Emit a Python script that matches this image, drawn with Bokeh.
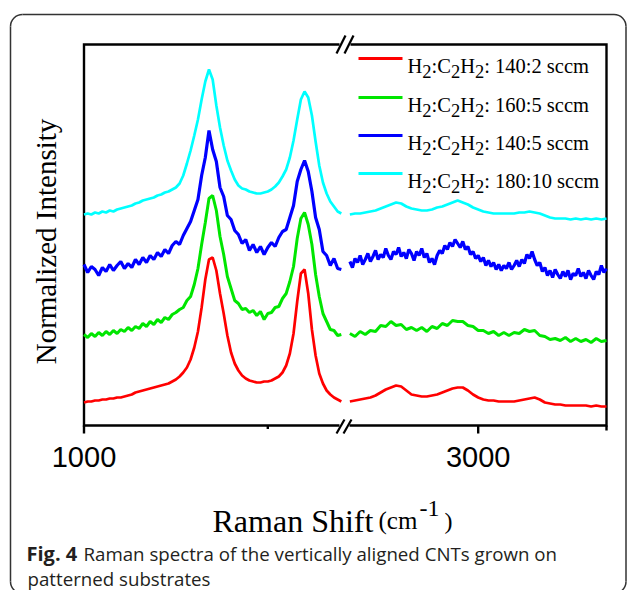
import math
from bokeh.plotting import figure
from bokeh.models import Range1d
from bokeh.core.properties import value
from bokeh.embed import file_html
from bokeh.resources import INLINE

# ---------------- data ----------------
wn_left = list(range(1000, 1701, 10))         # Raman shift, cm^-1 (left segment)
wn_right = list(range(2500, 3501, 20))        # Raman shift, cm^-1 (right segment)
wn_right_fine = list(range(2500, 3501, 10))   # finer sampling for the noisy blue spectrum

red_left = [23, 24, 24, 25, 25, 26, 26, 27, 27, 28, 28, 29, 30, 31, 33, 34, 35, 36, 37, 38,
            39, 40, 41, 42, 44, 46, 49, 53, 58, 66, 78, 94, 118, 146, 166, 168, 155, 132, 112, 90,
            73, 62, 55, 50, 47, 45, 44, 43, 43, 44, 44, 45, 47, 49, 53, 60, 72, 92, 124, 152,
            156, 132, 96, 70, 52, 42, 35, 31, 28, 26, 24]
green_left = [91, 88, 92, 89, 93, 90, 94, 91, 95, 92, 96, 94, 98, 95, 99, 97, 102, 99, 104, 101,
              106, 103, 108, 106, 111, 113, 116, 118, 125, 129, 141, 157, 181, 203, 227, 230, 215, 189, 171, 149,
              137, 125, 122, 116, 117, 113, 115, 110, 114, 106, 112, 113, 118, 119, 127, 132, 144, 159, 187, 207,
              213, 201, 181, 151, 129, 112, 104, 96, 95, 90, 91]
blue_left = [161, 153, 159, 156, 150, 158, 154, 161, 155, 160, 164, 157, 162, 158, 166, 161, 168, 163, 170, 166,
             173, 169, 176, 172, 180, 184, 181, 190, 197, 204, 215, 226, 250, 268, 295, 276, 264, 238, 229, 210,
             206, 195, 191, 182, 186, 175, 181, 173, 179, 171, 178, 183, 179, 188, 194, 196, 208, 220, 244, 256,
             265, 254, 234, 208, 196, 174, 170, 160, 167, 157, 156]
cyan_left = [211, 212, 211, 213, 212, 214, 213, 215, 214, 216, 217, 218, 219, 220, 222, 223, 225, 226, 227, 228,
             230, 231, 233, 234, 236, 238, 242, 250, 262, 275, 290, 306, 326, 344, 356, 346, 320, 298, 280, 265,
             255, 246, 240, 237, 236, 234, 233, 232, 232, 233, 234, 236, 239, 243, 249, 256, 268, 285, 306, 326,
             334, 328, 310, 284, 260, 243, 232, 224, 219, 214, 212]

red_right = [24, 25, 26, 27, 28, 30, 33, 36, 38, 40, 39, 35, 31, 30, 29, 29, 30, 31, 33, 35,
             37, 38, 38, 35, 31, 28, 26, 25, 25, 24, 24, 24, 24, 25, 26, 27, 28, 26, 23, 22,
             21, 21, 20, 20, 20, 20, 20, 19, 20, 19, 19]
green_right = [92, 89, 94, 91, 95, 94, 100, 99, 104, 100, 101, 96, 98, 95, 98, 94, 99, 97, 102, 100,
               105, 104, 104, 100, 99, 95, 95, 92, 94, 90, 93, 90, 93, 92, 96, 94, 95, 90, 89, 86,
               87, 85, 88, 84, 87, 84, 86, 83, 87, 84, 85]
blue_right = [164, 158, 167, 163, 170, 161, 166, 172, 164, 169, 175, 166, 171, 168, 177, 170, 166, 174, 171, 178,
              169, 173, 167, 176, 172, 165, 174, 170, 177, 168, 172, 163, 167, 161, 170, 175, 172, 180, 176, 183,
              179, 186, 182, 178, 184, 176, 179, 171, 174, 167, 170, 164, 168, 160, 165, 159, 163, 156, 161, 155,
              160, 157, 163, 156, 160, 165, 159, 166, 162, 171, 167, 174, 166, 160, 163, 154, 158, 150, 155, 148,
              156, 151, 147, 154, 149, 155, 146, 152, 150, 157, 149, 153, 147, 155, 150, 146, 154, 151, 160, 153,
              157]
cyan_right = [211, 212, 212, 213, 214, 215, 217, 219, 221, 223, 222, 219, 217, 216, 215, 215, 216, 218, 219, 221,
              223, 225, 223, 221, 218, 216, 214, 213, 212, 212, 212, 212, 212, 213, 213, 214, 213, 212, 210, 208,
              207, 207, 207, 206, 207, 206, 207, 206, 207, 206, 207]

series_flows = ["140:2", "160:5", "140:5", "180:10"]          # H2:C2H2 flow, sccm
series_labels = ["H\u2082:C\u2082H\u2082: %s sccm" % f for f in series_flows]
series_colors = ["#ff0000", "#00e600", "#0000ff", "#00ffff"]
series_widths = [2.7, 3.0, 3.2, 2.7]

left_range = (1000, 1710)      # wavenumber span of the left axis segment
right_range = (2481, 3500)     # wavenumber span of the right axis segment
y_range = (0, 381)             # normalized intensity (arbitrary units)
left_ticks, left_tick_labels = [1000], ["1000"]
left_minor = [1500]
right_ticks, right_tick_labels = [3000], ["3000"]
right_end_tick = [3500]

# ---------------- page canvas (1 unit = 1 px, y measured from the bottom) ----------------
W, H = 627, 590
p = figure(width=W, height=H, x_range=Range1d(0, W), y_range=Range1d(0, H),
           output_backend="svg", toolbar_location=None,
           x_axis_location=None, y_axis_location=None, min_border=0)
p.grid.visible = False
p.outline_line_color = None
p.background_fill_color = "white"
p.border_fill_color = "white"

# plot frame in page units
FL, FB, FR, FT, FBRK = 83.5, 165, 606, 546, 344.5
AXW = 2.4

left_sub = p.subplot(x_source=Range1d(*left_range), y_source=Range1d(*y_range),
                     x_target=Range1d(FL, FBRK), y_target=Range1d(FB, FT))
right_sub = p.subplot(x_source=Range1d(*right_range), y_source=Range1d(*y_range),
                      x_target=Range1d(FBRK, FR), y_target=Range1d(FB, FT))

# outer rounded panel border
R = 12
BL, BR, BT, BB = 10, 625.5, 576, -3
p.segment(x0=[BL, BR, BL + R, BL + R], y0=[BB + R, BB + R, BT, BB],
          x1=[BL, BR, BR - R, BR - R], y1=[BT - R, BT - R, BT, BB],
          line_color="#333333", line_width=1.5)
p.arc(x=[BL + R, BR - R, BL + R, BR - R], y=[BT - R, BT - R, BB + R, BB + R], radius=R,
      start_angle=[math.pi / 2, 0, math.pi, 1.5 * math.pi],
      end_angle=[math.pi, math.pi / 2, 1.5 * math.pi, 2 * math.pi],
      line_color="#333333", line_width=1.5)

# frame (broken at the axis break)
p.line([339, FL, FL, 339], [FT, FT, FB, FB], line_color="black", line_width=AXW, line_join="miter")
p.line([350, FR, FR, 349], [FT, FT, FB, FB], line_color="black", line_width=AXW, line_join="miter")
# break marks "//"
p.segment(x0=[336, 344, 336, 343], y0=[537, 537, 157, 157],
          x1=[345, 353, 344, 351], y1=[555, 555, 171, 171],
          line_color="black", line_width=2.2)

# ticks
left_sub.segment(x0=left_ticks, y0=[0] * len(left_ticks), x1=left_ticks, y1=[-8] * len(left_ticks),
                 line_color="black", line_width=AXW)
left_sub.segment(x0=left_minor, y0=[0] * len(left_minor), x1=left_minor, y1=[-3.5] * len(left_minor),
                 line_color="black", line_width=AXW)
right_sub.segment(x0=right_ticks, y0=[0] * len(right_ticks), x1=right_ticks, y1=[-8] * len(right_ticks),
                  line_color="black", line_width=AXW)
right_sub.segment(x0=right_end_tick, y0=[0], x1=right_end_tick, y1=[-5],
                  line_color="black", line_width=AXW)

tick_font = dict(text_font=value("Liberation Sans"), text_font_size=value("29px"),
                 text_align="center", text_baseline="middle", text_color="black")
left_sub.text(x=left_ticks, y=[-31] * len(left_ticks), text=left_tick_labels, **tick_font)
right_sub.text(x=right_ticks, y=[-31] * len(right_ticks), text=right_tick_labels, **tick_font)

# spectra
for ys, c, lw in zip([red_left, green_left, blue_left, cyan_left], series_colors, series_widths):
    left_sub.line(wn_left, ys, line_color=c, line_width=lw)
right_sets = [(wn_right, red_right), (wn_right, green_right),
              (wn_right_fine, blue_right), (wn_right, cyan_right)]
for (xs, ys), c, lw in zip(right_sets, series_colors, series_widths):
    right_sub.line(xs, ys, line_color=c, line_width=lw)

# legend (drawn by hand: line sample + label with lowered subscripts)
serif = "Liberation Serif"
FS, SS = 20.5, 18.5
row_y = [532, 493, 455, 417]
for ry, c, flow in zip(row_y, series_colors, series_flows):
    p.line([358, 402], [ry, ry], line_color=c, line_width=3)
    tx = 407
    base = ry - 7.5
    pieces = [("H", FS, 0, 0.722), ("2", SS, -5.5, 0.5), (":C", FS, 0, 0.945),
              ("2", SS, -5.5, 0.5), ("H", FS, 0, 0.722), ("2", SS, -5.5, 0.5),
              (": " + flow + " sccm", FS, 0, 0)]
    for txt, fs, dy, adv in pieces:
        p.text(x=[tx], y=[base + dy], text=[txt], text_font=value(serif),
               text_font_size=value("%.1fpx" % fs), text_align="left",
               text_baseline="alphabetic", text_color="black")
        tx += adv * fs

# axis titles
p.text(x=[45], y=[349], text=["Normalized Intensity"], angle=math.pi / 2,
       text_font=value(serif), text_font_size=value("29px"), text_align="center",
       text_baseline="middle", text_color="black")
p.text(x=[212], y=[70], text=["Raman Shift"], text_font=value(serif),
       text_font_size=value("32px"), text_baseline="alphabetic", text_color="black")
p.text(x=[378], y=[70], text=["(cm"], text_font=value(serif),
       text_font_size=value("25px"), text_baseline="alphabetic", text_color="black")
p.text(x=[419], y=[82], text=["-1"], text_font=value(serif),
       text_font_size=value("24px"), text_baseline="alphabetic", text_color="black")
p.text(x=[444], y=[70], text=[")"], text_font=value(serif),
       text_font_size=value("24px"), text_baseline="alphabetic", text_color="black")

# caption
cap = "Open Sans"
p.text(x=[26], y=[37], text=["Fig. 4"], text_font=value(cap), text_font_size=value("20px"),
       text_font_style="bold", text_baseline="alphabetic", text_color="#231f20")
p.text(x=[83], y=[37], text=["Raman spectra of the vertically aligned CNTs grown on"],
       text_font=value(cap), text_font_size=value("18.7px"), text_baseline="alphabetic",
       text_color="#231f20")
p.text(x=[27], y=[12], text=["patterned substrates"], text_font=value(cap),
       text_font_size=value("18.7px"), text_baseline="alphabetic", text_color="#231f20")

open("out.html", "w").write(file_html(p, INLINE))
